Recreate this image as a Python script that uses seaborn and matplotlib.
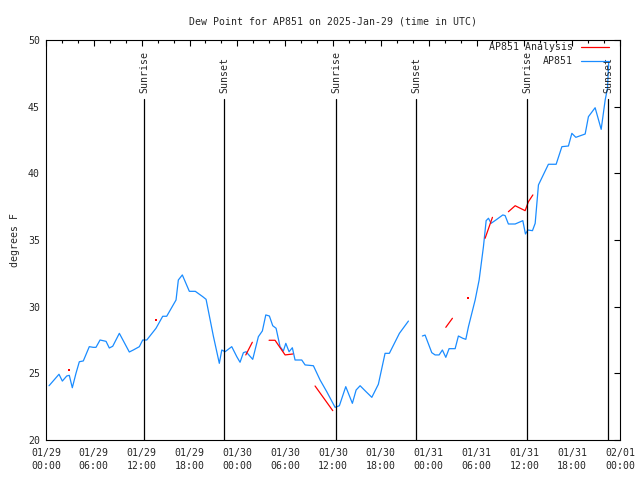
import numpy as np
import pandas as pd
import matplotlib
matplotlib.use("Agg")
import matplotlib.pyplot as plt
import matplotlib.dates as mdates
from matplotlib.lines import Line2D
import seaborn as sns

# ---------------- data ----------------
start = pd.Timestamp("2025-01-29 00:00")

# AP851 observed dew point (hours since start, degrees F)
obs_hours = [0.38, 1.63, 2.05, 2.60, 2.92, 3.30, 3.76, 4.18, 4.68, 5.43, 5.93, 6.27, 6.78,
             7.53, 7.94, 8.37, 9.20, 10.45, 10.95, 11.71, 12.13, 12.64, 13.80, 14.64, 15.14,
             16.31, 16.60, 17.10, 17.98, 18.73, 19.66, 20.08, 20.99, 21.74, 22.05, 22.46,
             23.30, 23.93, 24.34, 24.76, 25.09, 25.93, 26.64, 27.14, 27.57, 28.02, 28.44,
             28.86, 29.36, 29.77, 30.08, 30.49, 30.90, 31.24, 32.08, 32.50, 33.54, 34.38,
             35.22, 36.26, 36.80, 37.60, 38.43, 38.90, 39.40, 40.15, 40.87, 41.69, 42.53,
             43.07, 44.33, 45.46,
             47.21, 47.55, 48.39, 48.81, 49.31, 49.72, 50.15, 50.56, 51.32, 51.73, 52.28,
             52.66, 52.99, 53.83, 54.33, 54.87, 55.21, 55.50, 55.83, 56.55, 57.30, 57.59,
             58.00, 58.85, 59.81, 60.14, 60.44, 61.02, 61.36, 61.77, 63.02, 63.99, 64.71,
             65.53, 65.96, 66.46, 67.63, 68.04, 68.88, 69.64, 70.14, 70.43, 70.58]
obs_values = [24.07, 24.93, 24.42, 24.80, 24.85, 23.92, 25.00, 25.87, 25.93, 27.00, 26.95,
              26.95, 27.50, 27.40, 26.90, 27.03, 28.00, 26.60, 26.75, 27.00, 27.50, 27.50,
              28.38, 29.28, 29.28, 30.50, 32.00, 32.38, 31.15, 31.15, 30.75, 30.55, 27.80,
              25.75, 26.75, 26.62, 27.00, 26.25, 25.83, 26.55, 26.62, 26.05, 27.75, 28.18,
              29.38, 29.30, 28.57, 28.38, 27.00, 26.67, 27.25, 26.62, 26.92, 26.00, 26.00,
              25.63, 25.57, 24.50, 23.62, 22.45, 22.57, 24.00, 22.75, 23.75, 24.07, 23.62,
              23.20, 24.18, 26.50, 26.50, 28.00, 28.92,
              27.80, 27.87, 26.55, 26.38, 26.38, 26.75, 26.20, 26.85, 26.85, 27.80, 27.63,
              27.55, 28.50, 30.50, 32.00, 34.50, 36.45, 36.63, 36.25, 36.55, 36.88, 36.83,
              36.20, 36.20, 36.45, 35.45, 35.75, 35.70, 36.25, 39.13, 40.68, 40.68, 42.00,
              42.05, 43.00, 42.70, 42.95, 44.25, 44.92, 43.30, 45.50, 46.38, 48.30]
obs_segment = [0] * 72 + [1] * 43

# AP851 Analysis (short pieces)
ana_hours = [2.92, 13.80, 25.06, 25.88, 27.98, 28.73, 29.99, 30.95, 33.75, 35.97,
             50.15, 50.98, 52.95, 55.08, 56.00, 58.00, 58.85, 60.10, 60.51, 61.07]
ana_values = [25.23, 28.98, 26.38, 27.33, 27.48, 27.48, 26.38, 26.45, 24.05, 22.20,
              28.45, 29.13, 30.63, 35.13, 36.70, 37.12, 37.57, 37.20, 37.87, 38.38]
ana_segment = [0, 1, 2, 2, 3, 3, 3, 3, 4, 4, 5, 5, 6, 7, 7, 8, 8, 8, 8, 8]

# sunrise / sunset (hours since start)
sun_hours = [12.35, 22.37, 36.39, 46.46, 60.39, 70.55]
sun_labels = ["Sunrise", "Sunset", "Sunrise", "Sunset", "Sunrise", "Sunset"]

title = "Dew Point for AP851 on 2025-Jan-29 (time in UTC)"
ylabel = "degrees F"

# ---------------- frames ----------------
obs = pd.DataFrame({"time": start + pd.to_timedelta(obs_hours, unit="h"),
                    "value": obs_values, "seg": obs_segment})
ana = pd.DataFrame({"time": start + pd.to_timedelta(ana_hours, unit="h"),
                    "value": ana_values, "seg": ana_segment})

# ---------------- style ----------------
sns.set_theme(style="white")
plt.rcParams["font.family"] = ["DejaVu Sans Mono"]
plt.rcParams["font.size"] = 7.15
plt.rcParams["axes.linewidth"] = 0.8

FS = 7.15
BLUE = "#1a8cff"
RED = "#ff0000"

fig = plt.figure(figsize=(6.4, 4.8), dpi=100)
ax = fig.add_axes([46 / 640, 1 - 440 / 480, 574 / 640, 400 / 480])

sns.lineplot(data=obs, x="time", y="value", units="seg", estimator=None,
             color=BLUE, lw=0.9, ax=ax, sort=False, legend=False)
sns.lineplot(data=ana, x="time", y="value", units="seg", estimator=None,
             color=RED, lw=0.9, ax=ax, sort=False, legend=False)
# isolated analysis points
single = ana[ana.groupby("seg")["seg"].transform("size") == 1]
sns.scatterplot(data=single, x="time", y="value", color=RED, s=2, marker="s",
                linewidth=0, ax=ax, legend=False)

x0 = start
x1 = start + pd.Timedelta(hours=72)
ax.set_xlim(x0, x1)
ax.set_ylim(20, 50)

for h, lab in zip(sun_hours, sun_labels):
    t = start + pd.Timedelta(hours=h)
    ax.plot([t, t], [20, 45.55], color="black", lw=0.9)
    ax.text(t, 46.0, lab, rotation=90, ha="center", va="bottom", fontsize=FS)

ax.xaxis.set_major_locator(mdates.HourLocator(byhour=[0, 6, 12, 18]))
ax.xaxis.set_minor_locator(mdates.HourLocator(interval=2))
ax.xaxis.set_major_formatter(mdates.DateFormatter("%m/%d\n%H:%M"))
ax.set_yticks([20, 25, 30, 35, 40, 45, 50])

ax.tick_params(axis="both", which="both", direction="in", top=True, right=True,
               color="black", width=0.8, labelsize=FS)
ax.tick_params(axis="x", which="major", length=4.5, pad=5.5)
ax.tick_params(axis="x", which="minor", length=2.5)
ax.tick_params(axis="y", which="major", length=4.5, pad=4.3)
for lbl in ax.get_xticklabels():
    lbl.set_linespacing(1.45)

for s in ax.spines.values():
    s.set_color("black")
    s.set_linewidth(0.8)

ax.set_xlabel("")
ax.set_ylabel(ylabel, fontsize=FS, labelpad=6)
ax.set_title(title, fontsize=FS, pad=11)

handles = [Line2D([], [], color=RED, lw=0.9), Line2D([], [], color=BLUE, lw=0.9)]
ax.legend(handles, ["AP851 Analysis", "AP851"], loc="upper right",
          bbox_to_anchor=(0.985, 1.0), frameon=False, markerfirst=False,
          handlelength=2.9, handletextpad=0.8, labelspacing=0.45,
          borderpad=0.2, borderaxespad=0, fontsize=FS)

fig.savefig("out.png", dpi=100)
